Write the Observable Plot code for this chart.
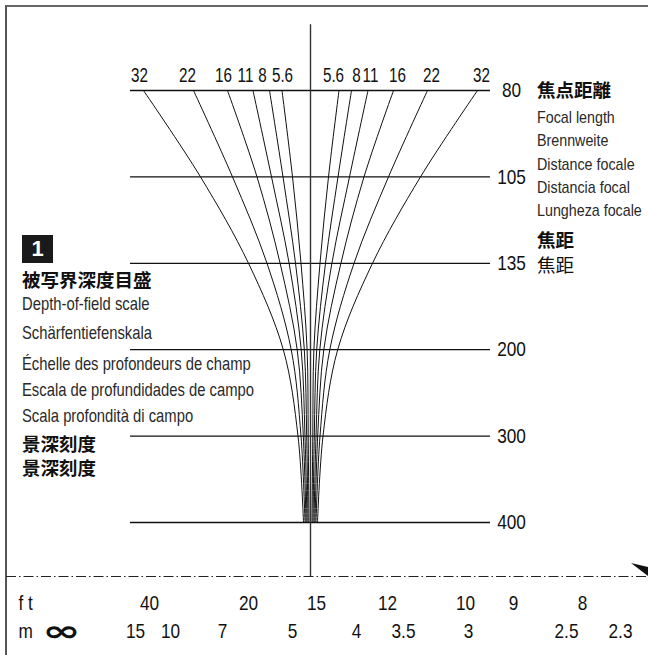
<!DOCTYPE html>
<html>
<head>
<meta charset="utf-8">
<script src="https://cdn.jsdelivr.net/npm/d3@7"></script>
<script src="https://cdn.jsdelivr.net/npm/@observablehq/plot@0.6"></script>
<style>
  html, body { margin: 0; padding: 0; background: #fff; }
  #wrap { position: relative; width: 648px; height: 655px; overflow: hidden; background: #fff;
          font-family: "Liberation Sans", Arial, sans-serif; }
  #wrap svg.chart { position: absolute; left: 0; top: 0; }
  .frame { position: absolute; left: 5px; top: 5px; width: 700px; height: 700px;
           border-left: 2px solid #555; border-top: 2px solid #666; }
  .t { position: absolute; white-space: nowrap; line-height: 1; color: #2a2a2a; transform-origin: 0 0; }
  .lat { font-size: 17px; transform: scaleX(0.84); }
  .latL { font-size: 18.5px; transform: scaleX(0.80); }
  .cjk { font-family: "Noto Sans CJK JP", "Noto Sans CJK SC", sans-serif; font-size: 18.5px; color: #111; }
  .b { font-weight: 700; }
  .box { position: absolute; left: 22px; top: 235px; width: 31px; height: 28px; background: #1a1a1a;
         color: #fff; font-family: "Liberation Sans", sans-serif; font-weight: 700; font-size: 22px;
         text-align: center; line-height: 28px; }
</style>
</head>
<body>
<div id="wrap">
  <div class="frame"></div>
</div>
<script>
// ---- data ----
const focalLengths = [80, 105, 135, 200, 300, 400];
const apertures = ["5.6", "8", "11", "16", "22", "32"];
// half-width of the depth-of-field band (scale units, from the centre index) per focal length row
const dof5_6 = [28.5, 18, 9.5, 3.4, 2.3, 1.5];
const dof8   = [41, 27.5, 15, 6.2, 3.8, 2.5];
const dof11  = [57.5, 39, 21.4, 9.3, 5.5, 3.5];
const dof16  = [83, 53.5, 30.4, 13.3, 7.2, 4.5];
const dof22  = [117, 78, 43.5, 19.3, 9.5, 5.5];
const dof32  = [167, 110, 62, 27.2, 12.5, 7];
// aperture tick labels along the top (scale units)
const apertureLabelLeft  = [-28, -48, -65, -87, -123, -171];
const apertureLabelRight = [23, 46, 60, 87, 121, 171];
// distance scale (bottom)
const ftLabels = ["40", "20", "15", "12", "10", "9", "8"];
const ftPos    = [-161, -62, 6, 77, 155, 203, 272];
const mLabels  = ["15", "10", "7", "5", "4", "3.5", "3", "2.5", "2.3"];
const mPos     = [-175, -140, -88, -18, 46, 93, 158, 256, 310];

// ---- build tables ----
const dofSeries = [dof5_6, dof8, dof11, dof16, dof22, dof32];
const curves = [];
apertures.forEach((a, k) => {
  for (const side of [-1, 1]) {
    dofSeries[k].forEach((v, i) => curves.push({key: a + (side < 0 ? "L" : "R"), x: side * v, row: i}));
  }
});
const rows = focalLengths.map((f, i) => ({f, row: i}));
const apLabels = [
  ...apertures.map((a, k) => ({label: a, x: apertureLabelLeft[k]})),
  ...apertures.map((a, k) => ({label: a, x: apertureLabelRight[k]}))
];
const ftData = ftLabels.map((l, i) => ({label: l, x: ftPos[i]}));
const mData = mLabels.map((l, i) => ({label: l, x: mPos[i]}));

const ROW_DASH = 5.625, ROW_FT = 5.93, ROW_M = 6.26, ROW_TOP = -0.76;
const numFont = `"Liberation Sans", Arial, sans-serif`;

const chart = Plot.plot({
  width: 648, height: 655, margin: 0,
  x: {domain: [-310, 338], range: [0, 648], axis: null},
  y: {domain: [0, 5], range: [90, 522], axis: null},
  style: {background: "transparent", overflow: "visible"},
  marks: [
    Plot.ruleY(rows, {y: "row", x1: -180, x2: 180, stroke: "#111", strokeWidth: 1.3}),
    Plot.ruleX([0], {y1: ROW_TOP, y2: ROW_DASH, stroke: "#333", strokeWidth: 1.4}),
    Plot.line(curves, {x: "x", y: "row", z: "key", curve: "catmull-rom", stroke: "#111", strokeWidth: 1}),
    Plot.text(apLabels, {x: "x", y: () => 0, text: "label", dy: -9, lineAnchor: "bottom",
      fontSize: 20, fontFamily: numFont, fill: "#111", ariaDescription: "s0.76"}),
    Plot.text(rows, {x: () => 201, y: "row", text: d => String(d.f), lineAnchor: "middle",
      fontSize: 21, fontFamily: numFont, fill: "#111", ariaDescription: "s0.82"}),
    Plot.ruleY([ROW_DASH], {x1: -304, x2: 338, stroke: "#222", strokeWidth: 1.2, strokeDasharray: "10,3,1.5,3"}),
    Plot.text(ftData, {x: "x", y: () => ROW_FT, text: "label", fontSize: 21, fontFamily: numFont, fill: "#111", ariaDescription: "s0.82"}),
    Plot.text(mData, {x: "x", y: () => ROW_M, text: "label", fontSize: 21, fontFamily: numFont, fill: "#111", ariaDescription: "s0.82"}),
    Plot.text(["f t"], {x: () => -292, y: () => ROW_FT, text: d => d, textAnchor: "start", fontSize: 21, fontFamily: numFont, fill: "#111", ariaDescription: "s0.82"}),
    Plot.text(["m"], {x: () => -292, y: () => ROW_M, text: d => d, textAnchor: "start", fontSize: 21, fontFamily: numFont, fill: "#111", ariaDescription: "s0.82"}),
    Plot.text(["∞"], {x: () => -249, y: () => ROW_M, text: d => d, fontSize: 29, fontWeight: "bold", fontFamily: "DejaVu Sans", fill: "#111", ariaDescription: "s1.6"})
  ]
});
chart.classList.add("chart");
const wrap = document.getElementById("wrap");
wrap.appendChild(chart);

// condensed look: compress glyph widths via textLength (style only, positions untouched)
chart.querySelectorAll("g[aria-description]").forEach(g => {
  const m = /^s([\d.]+)$/.exec(g.getAttribute("aria-description") || "");
  if (!m) return;
  const s = +m[1];
  g.querySelectorAll("text").forEach(t => {
    const w = t.getComputedTextLength();
    if (w > 0) {
      t.setAttribute("textLength", (w * s).toFixed(2));
      t.setAttribute("lengthAdjust", "spacingAndGlyphs");
    }
  });
});

// ---- text blocks ----
function addText(txt, cls, left, top) {
  const d = document.createElement("div");
  d.className = "t " + cls;
  d.textContent = txt;
  d.style.left = left + "px";
  d.style.top = top + "px";
  wrap.appendChild(d);
}
// right block
addText("焦点距離", "cjk b", 537, 80);
addText("Focal length", "lat", 537, 109);
addText("Brennweite", "lat", 537, 132);
addText("Distance focale", "lat", 537, 156);
addText("Distancia focal", "lat", 537, 179);
addText("Lungheza focale", "lat", 537, 202);
addText("焦距", "cjk b", 537, 230);
addText("焦距", "cjk", 537, 255);
// left block
const box = document.createElement("div");
box.className = "box"; box.textContent = "1"; wrap.appendChild(box);
addText("被写界深度目盛", "cjk b", 22, 270);
addText("Depth-of-field scale", "latL", 22, 295);
addText("Schärfentiefenskala", "latL", 22, 324);
addText("Échelle des profondeurs de champ", "latL", 22, 355);
addText("Escala de profundidades de campo", "latL", 22, 381);
addText("Scala profondità di campo", "latL", 22, 407);
addText("景深刻度", "cjk b", 22, 434);
addText("景深刻度", "cjk b", 22, 458);

// small wedge marker at the right end of the index line
const ns = "http://www.w3.org/2000/svg";
const mk = document.createElementNS(ns, "svg");
mk.setAttribute("width", 648); mk.setAttribute("height", 655);
mk.style.position = "absolute"; mk.style.left = "0"; mk.style.top = "0";
const poly = document.createElementNS(ns, "polygon");
poly.setAttribute("points", "631,563 648,567 648,576");
poly.setAttribute("fill", "#111");
mk.appendChild(poly);
wrap.appendChild(mk);
</script>
</body>
</html>
